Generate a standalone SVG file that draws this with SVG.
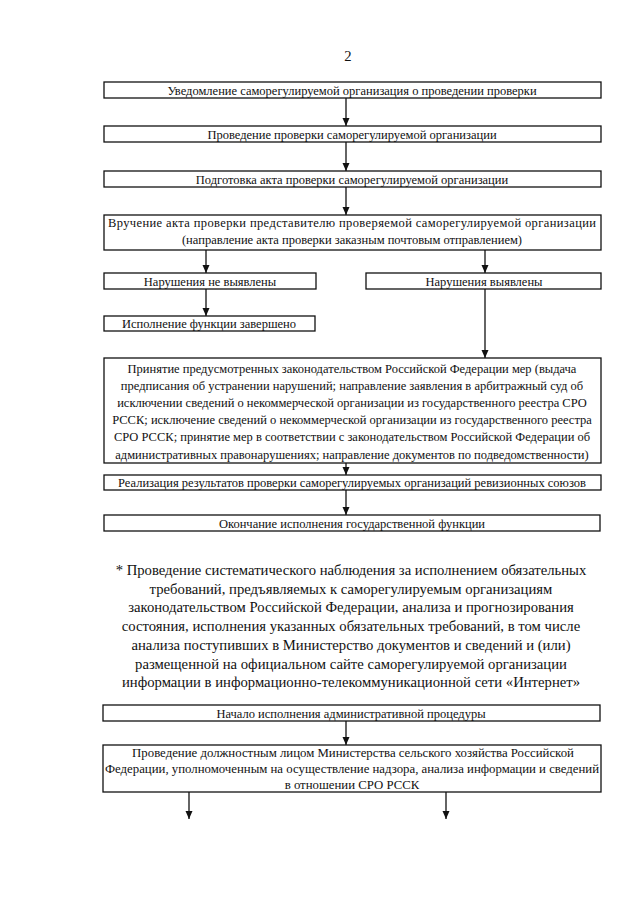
<svg xmlns="http://www.w3.org/2000/svg" width="640" height="905" viewBox="0 0 640 905">
<style>
.bg{fill:#ffffff}
.box{fill:#ffffff;stroke:#111;stroke-width:1.3}
.t{font-family:"Liberation Serif","Times New Roman",serif;font-size:12.5px;fill:#111;text-anchor:middle}
.t2{font-size:12.8px}
.n{font-family:"Liberation Serif","Times New Roman",serif;font-size:14.7px;fill:#111;text-anchor:middle}
.c{stroke:#111;stroke-width:1.3;fill:none;marker-end:url(#ah)}
</style>
<defs>
<marker id="ah" markerUnits="userSpaceOnUse" markerWidth="8" markerHeight="8" refX="8" refY="3.5" orient="auto">
<path d="M0,0 L8,3.5 L0,7 z" fill="#111"/>
</marker>
</defs>
<rect class="bg" x="0" y="0" width="640" height="905"/>
<text class="n" x="348" y="61">2</text>

<g id="connectors">
<line class="c" x1="346" y1="98" x2="346" y2="126"/>
<line class="c" x1="346" y1="142" x2="346" y2="171"/>
<line class="c" x1="346" y1="187" x2="346" y2="215"/>
<line class="c" x1="206" y1="250" x2="206" y2="273"/>
<line class="c" x1="485" y1="250" x2="485" y2="273"/>
<line class="c" x1="206" y1="289" x2="206" y2="316"/>
<line class="c" x1="485" y1="289" x2="485" y2="358"/>
<line class="c" x1="346" y1="463" x2="346" y2="475"/>
<line class="c" x1="346" y1="490" x2="346" y2="515"/>
<line class="c" x1="346" y1="721" x2="346" y2="745"/>
<line class="c" x1="189" y1="792" x2="189" y2="819"/>
<line class="c" x1="446" y1="792" x2="446" y2="819"/>
</g>

<g id="n1"><rect class="box" x="104" y="82" width="497" height="16"/>
<text class="t" x="352" y="94.5">Уведомление саморегулируемой организация о проведении проверки</text></g>

<g id="n2"><rect class="box" x="104" y="126" width="497" height="16"/>
<text class="t" x="352" y="138.5">Проведение проверки саморегулируемой организации</text></g>

<g id="n3"><rect class="box" x="104" y="171" width="497" height="16"/>
<text class="t" x="352" y="183.5">Подготовка акта проверки саморегулируемой организации</text></g>

<g id="n4"><rect class="box" x="104" y="215" width="497" height="35"/>
<text class="t" x="352" y="226.5" textLength="488" lengthAdjust="spacing">Вручение акта проверки представителю проверяемой саморегулируемой организации</text>
<text class="t" x="352" y="243.5">(направление акта проверки заказным почтовым отправлением)</text></g>

<g id="n5"><rect class="box" x="104" y="273" width="212" height="16"/>
<text class="t" x="210" y="285.5">Нарушения не выявлены</text></g>

<g id="n6"><rect class="box" x="366" y="273" width="235" height="16"/>
<text class="t" x="484" y="285.5">Нарушения выявлены</text></g>

<g id="n7"><rect class="box" x="104" y="316" width="211" height="15"/>
<text class="t" x="209" y="328">Исполнение функции завершено</text></g>

<g id="n8"><rect class="box" x="104" y="358" width="497" height="105"/>
<text class="t" x="352" y="372.5">Принятие предусмотренных законодательством Российской Федерации мер (выдача</text>
<text class="t" x="352" y="389.7">предписания об устранении нарушений; направление заявления в арбитражный суд об</text>
<text class="t" x="352" y="406.9">исключении сведений о некоммерческой организации из государственного реестра СРО</text>
<text class="t" x="352" y="424.1">РССК; исключение сведений о некоммерческой организации из государственного реестра</text>
<text class="t" x="352" y="441.3">СРО РССК; принятие мер в соответствии с законодательством Российской Федерации об</text>
<text class="t" x="352" y="458.5">административных правонарушениях; направление документов по подведомственности)</text></g>

<g id="n9"><rect class="box" x="104" y="475" width="497" height="15"/>
<text class="t" x="352" y="487">Реализация результатов проверки саморегулируемых организаций ревизионных союзов</text></g>

<g id="n10"><rect class="box" x="104" y="515" width="496" height="16"/>
<text class="t" x="352" y="527.5">Окончание исполнения государственной функции</text></g>

<g id="note">
<text class="n" x="351" y="575">* Проведение систематического наблюдения за исполнением обязательных</text>
<text class="n" x="351" y="593.7">требований, предъявляемых к саморегулируемым организациям</text>
<text class="n" x="351" y="612.4">законодательством Российской Федерации, анализа и прогнозирования</text>
<text class="n" x="351" y="631.1">состояния, исполнения указанных обязательных требований, в том числе</text>
<text class="n" x="351" y="649.8">анализа поступивших в Министерство документов и сведений и (или)</text>
<text class="n" x="351" y="668.5">размещенной на официальном сайте саморегулируемой организации</text>
<text class="n" x="351" y="687.2">информации в информационно-телекоммуникационной сети «Интернет»</text>
</g>

<g id="n11"><rect class="box" x="103" y="705" width="497" height="16"/>
<text class="t" x="351" y="717.5">Начало исполнения административной процедуры</text></g>

<g id="n12"><rect class="box" x="103" y="745" width="498" height="47"/>
<text class="t t2" x="353" y="756.5">Проведение должностным лицом Министерства сельского хозяйства Российской</text>
<text class="t t2" x="352" y="773">Федерации, уполномоченным на осуществление надзора, анализа информации и сведений</text>
<text class="t t2" x="352" y="789">в отношении СРО РССК</text></g>
</svg>
